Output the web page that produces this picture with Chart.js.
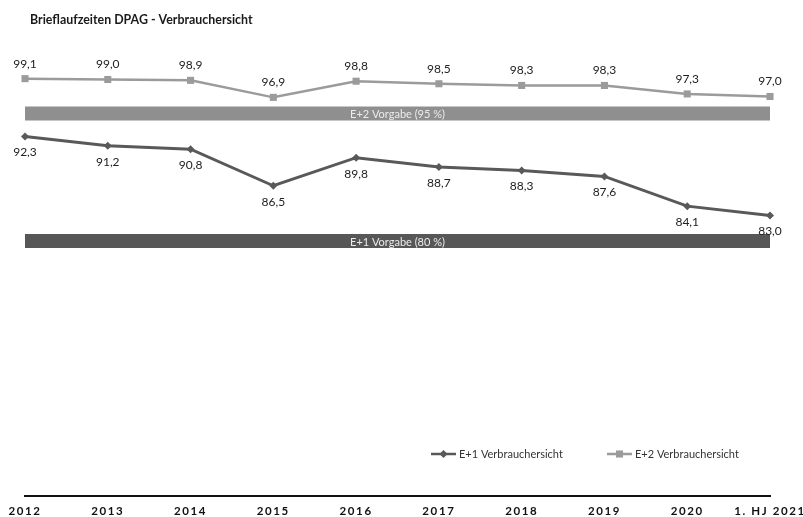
<!DOCTYPE html>
<html>
<head>
<meta charset="utf-8">
<script src="https://cdn.jsdelivr.net/npm/chart.js@4"></script>
<style>
  html, body { margin: 0; padding: 0; background: #fff; }
  #wrap { width: 803px; height: 517px; position: relative; }
</style>
</head>
<body>
<div id="wrap"><canvas id="c" width="803" height="517"></canvas></div>
<script>
// Categories and series
const years = ['2012', '2013', '2014', '2015', '2016', '2017', '2018', '2019', '2020', '1. HJ 2021'];
const e1Values = [92.3, 91.2, 90.8, 86.5, 89.8, 88.7, 88.3, 87.6, 84.1, 83.0];
const e2Values = [99.1, 99.0, 98.9, 96.9, 98.8, 98.5, 98.3, 98.3, 97.3, 97.0];
// Target levels (Vorgaben)
const e1Target = 80;
const e2Target = 95;

const titleText = 'Brieflaufzeiten DPAG - Verbrauchersicht';
const e1Label = 'E+1 Verbrauchersicht';
const e2Label = 'E+2 Verbrauchersicht';
const e1TargetLabel = 'E+1 Vorgabe (80 %)';
const e2TargetLabel = 'E+2 Vorgabe (95 %)';

const C_E1 = '#595959';
const C_E2 = '#9b9b9b';
const C_E1_BAND = '#575757';
const C_E2_BAND = '#8f8f8f';

const fmt = v => v.toFixed(1).replace('.', ',');

// Spaced-out lettering for the year axis only
const axisSpacing = {
  id: 'axisSpacing',
  beforeDraw(chart) { chart.ctx.letterSpacing = '1.6px'; },
  beforeDatasetsDraw(chart) { chart.ctx.letterSpacing = '0px'; }
};

// Title, value labels, band captions and the legend
const annotate = {
  id: 'annotate',
  afterDatasetsDraw(chart) {
    const ctx = chart.ctx;
    const area = chart.chartArea;
    ctx.save();
    ctx.letterSpacing = '0px';

    // title
    ctx.font = 'bold 12.4px Lato';
    ctx.fillStyle = '#1a1a1a';
    ctx.textAlign = 'left';
    ctx.textBaseline = 'middle';
    ctx.fillText(titleText, 30, 20);

    // value labels
    ctx.font = '12px Lato';
    ctx.fillStyle = '#222';
    ctx.textAlign = 'center';
    chart.getDatasetMeta(2).data.forEach((pt, i) => {
      ctx.fillText(fmt(e1Values[i]), pt.x, pt.y + 16);
    });
    chart.getDatasetMeta(3).data.forEach((pt, i) => {
      ctx.fillText(fmt(e2Values[i]), pt.x, pt.y - 15);
    });

    // band captions
    const midX = (area.left + area.right) / 2;
    ctx.font = '11px Lato';
    ctx.fillStyle = '#ececec';
    const yb2 = chart.scales.y.getPixelForValue(e2Target);
    const yb1 = chart.scales.y.getPixelForValue(e1Target);
    ctx.fillText(e2TargetLabel, midX, yb2 + 1);
    ctx.fillText(e1TargetLabel, midX, yb1 + 1);

    // legend
    const ly = 454;
    const items = [
      { x: 431, color: C_E1, style: 'rectRot', r: 4, w: 2.5, text: e1Label },
      { x: 607, color: C_E2, style: 'rect', r: 5, w: 2.5, text: e2Label }
    ];
    items.forEach(it => {
      ctx.strokeStyle = it.color;
      ctx.lineWidth = it.w;
      ctx.beginPath();
      ctx.moveTo(it.x, ly);
      ctx.lineTo(it.x + 25, ly);
      ctx.stroke();
      ctx.fillStyle = it.color;
      Chart.helpers.drawPoint(ctx, { pointStyle: it.style, radius: it.r, borderWidth: 0 }, it.x + 12.5, ly);
      ctx.fillStyle = '#333';
      ctx.font = '11px Lato';
      ctx.textAlign = 'left';
      ctx.fillText(it.text, it.x + 28, ly);
    });

    ctx.restore();
  }
};

new Chart(document.getElementById('c'), {
  type: 'line',
  data: {
    labels: years,
    datasets: [
      {
        label: e2TargetLabel,
        data: years.map(() => e2Target),
        borderColor: C_E2_BAND,
        borderWidth: 14,
        borderCapStyle: 'butt',
        pointRadius: 0,
        order: 4
      },
      {
        label: e1TargetLabel,
        data: years.map(() => e1Target),
        borderColor: C_E1_BAND,
        borderWidth: 14,
        borderCapStyle: 'butt',
        pointRadius: 0,
        order: 3
      },
      {
        label: e1Label,
        data: e1Values,
        borderColor: C_E1,
        backgroundColor: C_E1,
        borderWidth: 3,
        pointStyle: 'rectRot',
        pointRadius: 4,
        pointBorderWidth: 0,
        order: 1
      },
      {
        label: e2Label,
        data: e2Values,
        borderColor: C_E2,
        backgroundColor: C_E2,
        borderWidth: 2.5,
        pointStyle: 'rect',
        pointRadius: 5,
        pointBorderWidth: 0,
        order: 2
      }
    ]
  },
  options: {
    responsive: false,
    animation: false,
    clip: false,
    layout: { padding: { top: 71, left: 25, right: 33, bottom: 0 } },
    plugins: {
      legend: { display: false },
      title: { display: false },
      tooltip: { enabled: false }
    },
    scales: {
      x: {
        offset: false,
        grid: { display: false, drawTicks: false },
        border: { display: true, color: '#111', width: 2 },
        ticks: {
          color: '#111',
          font: { family: 'Lato', size: 11.5, weight: 'bold' },
          padding: 8,
          maxRotation: 0,
          autoSkip: false
        },
        afterFit(s) {
          s.paddingLeft = 0;
          s.paddingRight = 0;
          s.height = 21;
        }
      },
      y: {
        display: false,
        min: 50,
        max: 100
      }
    }
  },
  plugins: [axisSpacing, annotate]
});
</script>
</body>
</html>
